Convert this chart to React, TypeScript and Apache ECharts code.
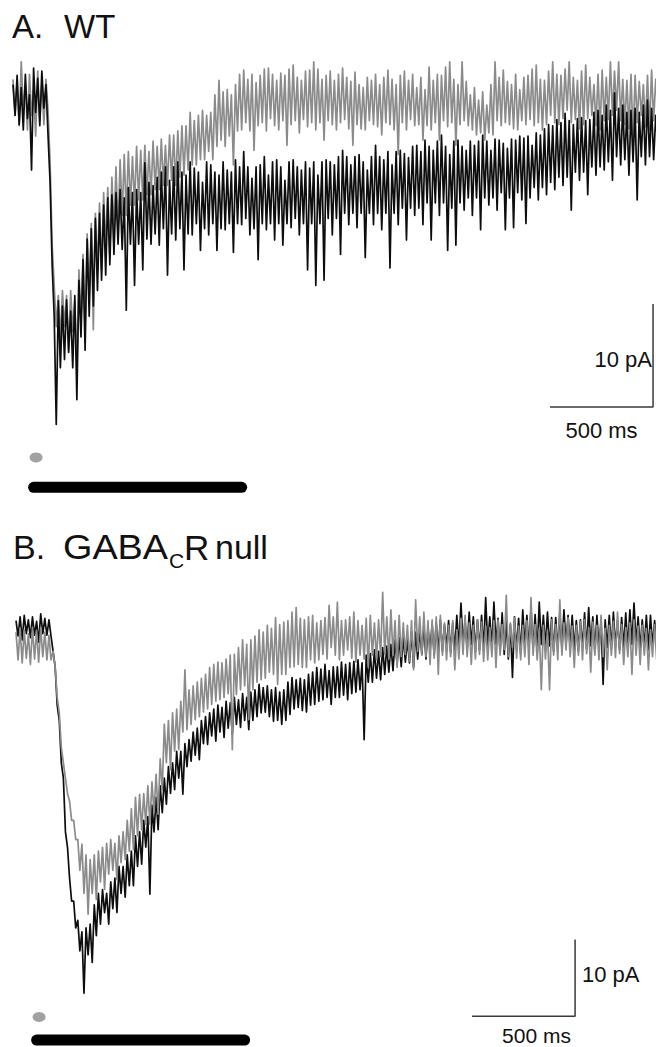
import { useEffect, useRef } from "react";
import * as echarts from "echarts";

// ---------- data ----------
// Each trace: one [upper, lower] noise-peak pair (pA) per 20 ms bin.
const BIN_MS = 20;

// Panel A (WT), gray trace
const wtGray: [number, number][] = [
  [2, -1.5], [1.9, -2.5], [3.7, -1], [1.5, -2.9], [2.5, -1.5], [1, -3.5], [2.8, -2], [1.5, -2.4], [2, -1], [-6, -14],
  [-18, -22], [-19, -23.3], [-18.5, -22], [-19, -24.3], [-18.5, -22.5], [-19.5, -26.2], [-16.5, -21.5], [-15, -22.3], [-13, -19], [-12, -22.3],
  [-11, -16.5], [-10, -16.5], [-9, -14.5], [-8.5, -15], [-7.5, -12.6], [-6.5, -12.6], [-5.8, -11.2], [-5.3, -11.2], [-5, -10.2], [-5.5, -10.2],
  [-4.5, -9.7], [-4.9, -9.7], [-4.4, -9.2], [-5, -9.2], [-4, -8.7], [-4.5, -8.7], [-3.8, -8.3], [-4.4, -8.3], [-3.4, -7.8], [-3.4, -8.3],
  [-3, -7.5], [-2.5, -7.3], [-2.5, -6.8], [-1.2, -6.3], [-2, -6.3], [-1.5, -5.8], [-1, -5.8], [-1.5, -5], [-1.2, -5.8], [0.5, -4.5],
  [1.9, -3.9], [0.8, -4.5], [1, -3.5], [0.5, -6.3], [1.5, -3], [2.5, -2.9], [2.9, -2.2], [2, -3], [2.5, -4.9], [1.7, -2.5],
  [2.4, -2.2], [3, -3], [3.1, -1.8], [2.5, -2.5], [1.9, -2.9], [2.6, -2], [2.4, -4.4], [3, -2.4], [3.4, -2], [2.2, -3.2],
  [1.9, -1.9], [2.8, -2.6], [2.9, -2.2], [3.7, -2.9], [3, -2.2], [2, -3.9], [2.4, -2], [2.8, -2.4], [1.9, -2.9], [2.5, -2.2],
  [3.1, -1.9], [2.2, -2.8], [1.8, -4.4], [2.7, -2.4], [1.5, -2.8], [1.2, -2.9], [2.2, -2], [1.9, -2.4], [2.5, -2.6], [1.5, -3.4],
  [2.2, -2.2], [2.9, -2.4], [2, -2.9], [1.5, -5.3], [2.4, -2.2], [2.8, -2.9], [1.9, -1.9], [2.5, -2.5], [1.2, -2.4], [2.2, -3.9],
  [1, -2.5], [3.2, -2.9], [1.9, -2.2], [2.5, -3.9], [2.4, -2], [3.2, -2.6], [3.7, -2.2], [2, -4.4], [1.5, -2.4], [3.7, -2],
  [1.8, -2.5], [0.5, -2.9], [1.2, -3.4], [0, -3.2], [0.8, -3.9], [-0.5, -3.2], [1.5, -3.4], [3.7, -2], [2.2, -2.5], [2.9, -2.2],
  [1.8, -2.4], [1.5, -2.8], [2.5, -2.9], [1, -2], [2.2, -2.4], [2.4, -1.9], [3, -2.5], [3.4, -2.2], [2, -2.9], [1.9, -2.4],
  [2.8, -1.5], [3.7, -2.2], [2.5, -2.4], [2.4, -1.8], [3, -1], [3.7, -2.2], [2.2, -1.9], [1.9, -2.8], [2.8, -2.4], [3.4, -1.8],
  [2.2, -1.5], [1.5, -2.5], [2.5, -2.9], [2.9, -2], [2.2, -1.9], [3.7, -1.5], [2.8, -1], [3.7, -2], [2, -2.4], [1.9, -2.8],
  [2.5, -3.9], [2.4, -2.2], [1.8, -1.5], [1.5, -2.6], [2.4, -2.9], [2.9, -2], [2, -1],
];

// Panel A (WT), black trace
const wtBlack: [number, number][] = [
  [1.5, -1.5], [2.4, -2.4], [1.2, -2.9], [2.5, -1.8], [0.5, -6.8], [3.1, -1.2], [2.1, -2.5], [2.8, -0.8], [1.5, -3.4], [-8, -16],
  [-21, -31.5], [-19.5, -26], [-20, -25.2], [-19.4, -24.5], [-20.5, -26], [-19, -29.1], [-17.5, -23], [-15.5, -24.3], [-13.5, -21], [-12.5, -20],
  [-11.5, -18.5], [-11, -17.5], [-10.2, -17], [-9.5, -16], [-9.2, -15], [-9, -14], [-8.7, -14.5], [-9.5, -20.4], [-8.5, -14], [-9, -18],
  [-8.7, -14], [-9, -16.5], [-6.1, -13.5], [-8, -14], [-8.3, -13], [-7.5, -14.1], [-7, -12.5], [-6.5, -17], [-7.8, -13], [-6.5, -13.6],
  [-6, -12.5], [-7, -16.5], [-7.3, -13], [-6, -13.1], [-6.6, -12], [-7, -14.6], [-8, -12.5], [-6, -13.1], [-6.3, -12], [-7, -14.6],
  [-7.3, -12.5], [-6, -12.6], [-6.8, -12], [-7, -14.8], [-5.8, -12], [-6.5, -12.1], [-5, -11.5], [-6.5, -13.1], [-7.6, -12.5], [-6.5, -15.5],
  [-6.3, -12], [-5.5, -12.6], [-7.3, -12], [-6, -13.6], [-5.8, -12], [-6.5, -14.1], [-7.8, -12], [-6, -12.4], [-5.8, -11.5], [-6.5, -13.1],
  [-6.8, -12], [-6, -16.5], [-6.6, -12], [-6, -18], [-7.3, -12], [-6, -17.5], [-5.8, -11.5], [-6, -13.1], [-6.3, -11.5], [-5.5, -15],
  [-4.9, -11], [-5.5, -12.1], [-6.3, -11], [-5.5, -12.4], [-5.3, -11], [-6, -15.3], [-6.8, -11], [-5.5, -12.1], [-4.4, -11], [-5.5, -12.6],
  [-5.8, -11], [-5, -16.3], [-6.3, -11], [-5, -12.1], [-4.9, -10.5], [-5.2, -13.6], [-5.6, -10.5], [-4.5, -11.2], [-4.4, -10.5], [-5, -12.1],
  [-3.9, -10], [-4.5, -13.6], [-4.9, -10], [-4, -11.2], [-3.4, -10], [-4.5, -14.6], [-5.3, -10.5], [-4, -14.1], [-3.9, -10], [-4.5, -10.7],
  [-4.9, -9.5], [-4, -11.2], [-4.4, -9.5], [-4, -12.6], [-3.4, -9.5], [-4, -10.2], [-4.9, -9.5], [-3.8, -10.7], [-3.9, -9], [-4.2, -12.6],
  [-4.7, -9.5], [-3.8, -12.4], [-3.9, -9], [-3.5, -9.7], [-3.7, -12], [-3.5, -9.5], [-4.4, -8.5], [-3.2, -9.7], [-3.4, -8.5], [-2.8, -9.2],
  [-2.4, -8], [-2.5, -8.7], [-1.9, -7.5], [-2.2, -8.3], [-1.3, -7.5], [-2, -10.7], [-2.4, -7], [-1.8, -7.8], [-1.7, -7], [-2, -9.2],
  [-1.9, -6.5], [-1.2, -7.3], [-1, -6.5], [-1.5, -6.8], [-0.5, -6], [-1, -7.8], [0.7, -5.5], [-0.8, -6.3], [-0.5, -5.8], [-1.2, -7.3],
  [-1, -6], [-0.8, -9.7], [-1.2, -5.5], [-0.5, -6.3], [0, -5.5], [-0.8, -5.8], [-1.5, -4.5],
];

// Panel B (GABA_C R null), black trace
const nullBlack: [number, number][] = [
  [2.5, 0.5], [3, 0], [3.2, 0.8], [2.6, 0.3], [3, 0.6], [2.4, -0.3], [3.4, 0.8], [2.8, 0.6], [2.6, 0.5], [-1.5, -3.5],
  [-8.5, -10.5], [-16, -18], [-25, -27], [-31, -34], [-34, -37.5], [-36.5, -40.5], [-38, -46], [-37.5, -41], [-37, -42], [-34.5, -38.5],
  [-33, -37], [-32.5, -35.5], [-33, -37], [-31.5, -35], [-31, -35.5], [-29.5, -33], [-29.5, -33.5], [-28, -32], [-27.5, -32], [-25.5, -29.5],
  [-25, -29.2], [-23.5, -27], [-23, -33.1], [-21.5, -25], [-20.5, -24.7], [-19, -22.5], [-18, -21.4], [-16.5, -20], [-16, -19.5], [-14.5, -18],
  [-14.5, -20.1], [-13.5, -16.5], [-13, -15.8], [-12, -15], [-11.5, -15.6], [-10.5, -13.5], [-10, -13.6], [-9.5, -12.5], [-9, -13.2], [-8.5, -12],
  [-8.8, -12.7], [-8, -11.5], [-8.2, -12.3], [-7.5, -11], [-7.8, -11.4], [-7, -10.5], [-7.5, -11.7], [-6.8, -10.5], [-6.5, -10], [-5.8, -9.5],
  [-6.2, -9.4], [-6, -10], [-6.5, -10.6], [-6.2, -10.5], [-6.8, -11], [-6.5, -10.5], [-5.5, -9.7], [-4.9, -9], [-5.2, -8.8], [-5, -9.2],
  [-5.2, -9.4], [-4.5, -8.5], [-4.2, -8.4], [-3.6, -8], [-3.8, -7.8], [-3.2, -7.5], [-4, -8.4], [-3.5, -7.5], [-3.5, -7.5], [-2.9, -7.2],
  [-3.2, -7.8], [-3, -7], [-2.8, -6.8], [-2.6, -6.5], [-3, -13], [-2, -5.5], [-1.8, -5.5], [-1.3, -5], [-1.5, -5.2], [-1, -4.5],
  [-0.8, -4.2], [-0.6, -4], [0, -3.2], [0.3, -3.5], [0.5, -2.9], [0, -3], [1, -3.6], [1, -2.5], [1.5, -1.9], [1.9, -2.5],
  [1.5, -1.3], [2, -2], [2.2, -1.6], [2.6, -1.5], [2, -1], [2.5, -1.6], [2.2, -1.3], [3.2, -1], [4.8, -0.5], [2.5, -1.2],
  [3.6, -0.6], [3, -1.5], [2.6, -1.3], [3.2, -1.3], [5.5, -0.8], [3, -1], [4.9, -0.6], [2.8, -1.5], [3.5, -1.9], [2.5, -2.5],
  [2, -4.9], [3, -1.3], [2.8, -1.8], [3.9, -0.8], [3.2, -1.2], [4.2, -1.3], [3.3, -1.8], [4.9, -0.6], [3.2, -1], [3.6, -0.8],
  [2.9, -1.5], [2.9, -1.3], [3.5, -1.2], [3.9, -0.6], [3.2, -1], [3.2, -1.3], [2.5, -1.5], [2.6, -1], [3.5, -1.2], [4.2, -0.8],
  [3, -1.5], [3.2, -1.2], [2.5, -5.8], [2.6, -1], [3.2, -1.2], [3.6, -0.8], [2.5, -1.3], [2.9, -1], [3.5, -1.2], [3.9, -0.6],
  [4.8, -0.5], [3, -1.2], [2.6, -1], [3.2, -1.3], [3.2, -0.8], [2.5, -0.5],
];

// Panel B (GABA_C R null), gray trace
const nullGray: [number, number][] = [
  [1, -2.6], [1.5, -3], [1.3, -2.4], [0.8, -3.2], [1.6, -2.5], [1.2, -2.9], [1.6, -2.2], [1, -2.6], [0.6, -2.6], [-1.5, -3.5],
  [-7.5, -9.5], [-14, -16], [-18, -20], [-21, -23.5], [-23.5, -26], [-26, -30], [-26.6, -33], [-28, -35.7], [-28.6, -33], [-28, -33.8],
  [-27.5, -31.5], [-27, -32.5], [-26.5, -30.5], [-26, -30], [-26.5, -31.2], [-25.5, -29], [-25, -28.6], [-23.5, -27.5], [-22, -27.3], [-20.5, -25.5],
  [-20.1, -24.7], [-20, -24], [-19, -24], [-18.5, -22.5], [-17.5, -22.7], [-15.5, -19.5], [-11, -16], [-10.5, -16.9], [-9.5, -14.5], [-9, -14.3],
  [-8, -12], [-3.9, -11.7], [-6.5, -11], [-6, -10.4], [-5.5, -10], [-5, -9.4], [-4.5, -9], [-3.6, -8.4], [-3.2, -8], [-2.9, -7.8],
  [-3, -7.5], [-2.5, -7], [-2, -14.3], [-1.9, -7.1], [-1, -6.5], [0, -6], [-0.6, -10.4], [0, -6.5], [0.5, -5.5], [1.3, -5.2],
  [1, -5], [1.9, -4.2], [1.5, -4.5], [2.9, -5.8], [2, -4.5], [2.3, -4.5], [2.5, -3.6], [3.6, -3.5], [4.2, -3.2], [2.8, -3.6],
  [2.6, -3.6], [3, -2.6], [3.2, -3], [2.2, -2.6], [2.5, -1.9], [2.9, -2.5], [4.5, -1], [3, -2], [4.9, -2.6], [2.5, -2],
  [2.6, -1.3], [3, -2.4], [3.6, -2.9], [2.5, -2], [1.9, -2.5], [2.8, -3.6], [3.2, -2], [2.2, -2.6], [2.6, -2.2], [6.2, -1.9],
  [3, -2.5], [3.9, -2], [2.5, -3.6], [3.2, -2.2], [2.2, -1.9], [1.9, -2.8], [2.5, -3.9], [5.2, -1.5], [3, -2], [3.6, -2.2],
  [2.5, -3.2], [2.6, -2.4], [3, -4.5], [3.2, -2], [2.2, -2.6], [1.9, -2.2], [2.5, -3.9], [1.3, -2.5], [2.8, -1.9], [3.2, -2.2],
  [2.2, -3.2], [1.9, -2.5], [2.6, -1.9], [2.3, -2.8], [1.8, -2.6], [1.6, -2.2], [2.5, -3.6], [2.6, -2], [2, -1.3], [5.8, -2.2],
  [2.2, -1], [2.9, -2.4], [1.8, -2.6], [1.9, -2.2], [2.5, -3.2], [5.5, -2], [2, -2.6], [1.5, -6.5], [1.9, -2.5], [1.2, -6.5],
  [2.6, -2], [2, -2.6], [5.2, -2], [2.2, -1.3], [2.9, -2.2], [1.8, -3.6], [1.9, -2], [2.4, -2.6], [2.6, -1.8], [1.6, -4.2],
  [2.3, -2], [1.9, -2.6], [3.2, -2.2], [1.5, -3.9], [1.9, -2], [2.4, -2.3], [3.6, -1.8], [2, -3.2], [1.6, -2.2], [2.2, -4.5],
  [2.6, -2], [1.8, -3.2], [1.9, -2], [1.5, -3.9], [1.3, -2.2], [2, -2.6],
];

// stimulus markers (ms)
const stimDotMs = 112;
const stimBarMs = [100, 1110];
const stimLevelA = { dot: -34.7, bar: -37.6 };
const stimLevelB = { dot: -49.1, bar: -52.1 };

// scale bars: 500 ms and 10 pA
const scaleMs = 500;
const scalePA = 10;
const scaleA = { tEnd: 3107, iBottom: -29.8 };
const scaleB = { tEnd: 2714, iBottom: -49 };
const scaleLabels = ["10 pA", "500 ms"];

// ---------- styles / layout ----------
const GRAY = "#8b8b8b";
const BLACK = "#0d0d0d";
const FONT = "'Liberation Sans', Arial, Helvetica, sans-serif";

const toSeries = (pairs: [number, number][]) =>
  pairs.flatMap(([hi, lo], i) => [
    [i * BIN_MS, hi],
    [i * BIN_MS + BIN_MS / 2, lo],
  ]);

const traceLine = (name: string, data: [number, number][], color: string, gi: number) => ({
  name,
  type: "line",
  xAxisIndex: gi,
  yAxisIndex: gi,
  data: toSeries(data),
  showSymbol: false,
  symbol: "none",
  silent: true,
  lineStyle: { color, width: 1.7, join: "round" },
});

const scaleBar = (gi: number, tEnd: number, iBottom: number) => ({
  type: "line",
  xAxisIndex: gi,
  yAxisIndex: gi,
  data: [
    [tEnd - scaleMs, iBottom],
    [tEnd, iBottom],
    [tEnd, iBottom + scalePA],
  ],
  showSymbol: false,
  symbol: "none",
  silent: true,
  clip: false,
  lineStyle: { color: "#3a3a3a", width: 1.5 },
});

const stimBar = (gi: number, level: number) => ({
  type: "line",
  xAxisIndex: gi,
  yAxisIndex: gi,
  data: [
    [stimBarMs[0], level],
    [stimBarMs[1], level],
  ],
  showSymbol: false,
  symbol: "none",
  silent: true,
  clip: false,
  lineStyle: { color: "#000", width: 11, cap: "round" },
});

const stimDot = (gi: number, level: number) => ({
  type: "scatter",
  xAxisIndex: gi,
  yAxisIndex: gi,
  data: [[stimDotMs, level]],
  symbol: "circle",
  symbolSize: [13, 10],
  silent: true,
  clip: false,
  itemStyle: { color: GRAY },
});

const txt = (
  text: string,
  x: number,
  y: number,
  size: number,
  align: "left" | "center" | "right" = "left",
  scaleX = 1
) => ({
  type: "text",
  x,
  y,
  scaleX,
  silent: true,
  style: {
    text,
    fill: "#111",
    font: `${size}px ${FONT}`,
    textAlign: align,
    textVerticalAlign: "middle",
  },
});

export default function App() {
  const ref = useRef<HTMLDivElement>(null);

  useEffect(() => {
    document.body.style.margin = "0";
    const chart = echarts.init(ref.current!, null, { renderer: "svg" });
    const pxPerMs = 103 / 500;
    const pxPerPA_A = 10.3;
    const pxPerPA_B = 7.7;
    const option = {
      animation: false,
      backgroundColor: "#ffffff",
      grid: [
        { left: 13, top: 100 - 6 * pxPerPA_A, width: 3120 * pxPerMs, height: 45 * pxPerPA_A },
        { left: 16, top: 640 - 8 * pxPerPA_B, width: 3100 * pxPerMs, height: 61 * pxPerPA_B },
      ],
      xAxis: [
        { type: "value", gridIndex: 0, min: 0, max: 3120, show: false },
        { type: "value", gridIndex: 1, min: 0, max: 3100, show: false },
      ],
      yAxis: [
        { type: "value", gridIndex: 0, min: -39, max: 6, show: false },
        { type: "value", gridIndex: 1, min: -53, max: 8, show: false },
      ],
      series: [
        traceLine("WT gray", wtGray, GRAY, 0),
        traceLine("WT black", wtBlack, BLACK, 0),
        scaleBar(0, scaleA.tEnd, scaleA.iBottom),
        stimDot(0, stimLevelA.dot),
        stimBar(0, stimLevelA.bar),
        traceLine("null black", nullBlack, BLACK, 1),
        traceLine("null gray", nullGray, GRAY, 1),
        scaleBar(1, scaleB.tEnd, scaleB.iBottom),
        stimDot(1, stimLevelB.dot),
        stimBar(1, stimLevelB.bar),
      ],
      graphic: [
        txt("A.", 12, 26.7, 33),
        txt("WT", 64, 26.7, 33),
        txt("B.", 13, 547, 34),
        txt("GABA", 63, 547, 35, "left", 1.08),
        txt("C", 169, 560.5, 21),
        txt("R", 184, 547, 35),
        txt("null", 215, 547, 34),
        txt(scaleLabels[0], 652, 359.7, 22, "right"),
        txt(scaleLabels[1], 601.5, 430, 22, "center"),
        txt(scaleLabels[0], 582, 974.5, 22, "left"),
        txt(scaleLabels[1], 536.5, 1035, 21, "center"),
      ],
    };
    chart.setOption(option as any);
    return () => chart.dispose();
  }, []);

  return <div ref={ref} style={{ width: 656, height: 1047, background: "#fff" }} />;
}
